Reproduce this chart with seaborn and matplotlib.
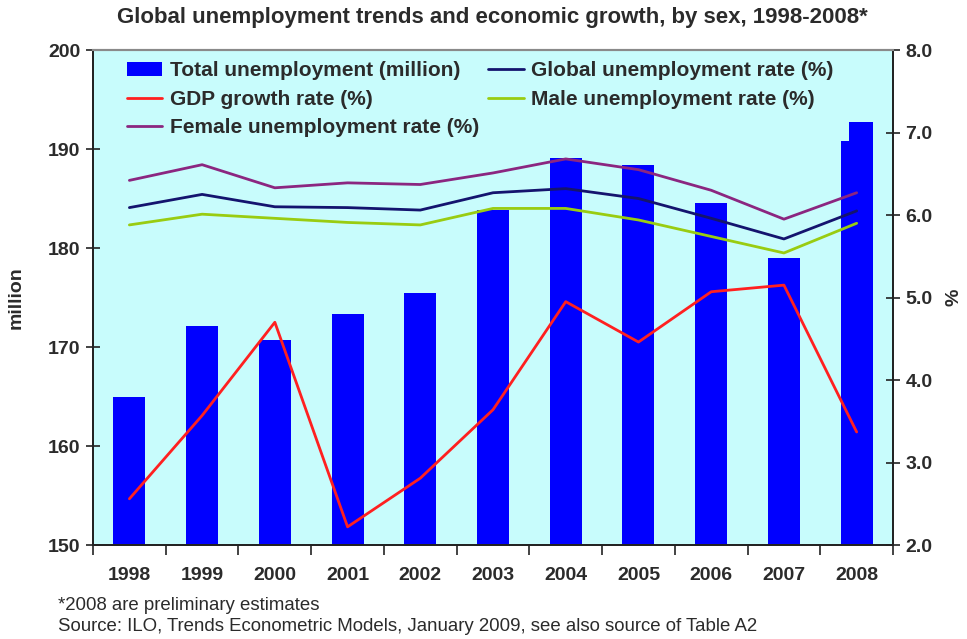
import matplotlib.pyplot as plt
import matplotlib.ticker as mticker
from matplotlib.patches import Patch
import numpy as np
import seaborn as sns

years = [1998, 1999, 2000, 2001, 2002, 2003, 2004, 2005, 2006, 2007, 2008]
total_unemployment = [165.0, 172.1, 170.7, 173.3, 175.5, 183.8, 189.1, 188.4, 184.5, 179.0, 190.8]
total_2008_upper = 192.7
gdp_growth = [2.56, 3.57, 4.70, 2.22, 2.81, 3.64, 4.95, 4.46, 5.07, 5.15, 3.37]
global_rate = [6.09, 6.25, 6.10, 6.09, 6.06, 6.27, 6.32, 6.20, 5.96, 5.71, 6.05]
male_rate = [5.88, 6.01, 5.96, 5.91, 5.88, 6.08, 6.08, 5.94, 5.74, 5.54, 5.90]
female_rate = [6.42, 6.61, 6.33, 6.39, 6.37, 6.51, 6.68, 6.55, 6.30, 5.95, 6.27]

sns.set_style("ticks")
plt.rcParams["font.family"] = ["Liberation Sans", "DejaVu Sans"]

text_color = "#2b2b2b"
bar_color = "#0000FF"
bar_w = 0.44
upper_w = 0.33

fig = plt.figure(figsize=(9.67, 6.39), dpi=100)
ax = fig.add_axes([0.0962, 0.1471, 0.8273, 0.7746])
ax.set_facecolor("#C8FCFC")

sns.barplot(
    x=years,
    y=total_unemployment,
    native_scale=True,
    width=bar_w,
    color=bar_color,
    saturation=1,
    errorbar=None,
    linewidth=0,
    ax=ax,
)
# preliminary 2008 estimate drawn as a taller, narrower block on the right
ax.bar(years[-1] + bar_w / 2, total_2008_upper, width=-upper_w, align="edge",
       color=bar_color, linewidth=0)

ax.set_ylim(150, 200)
ax.set_xlim(years[0] - 0.5, years[-1] + 0.5)

ax2 = ax.twinx()
series = [
    ("Global unemployment rate (%)", global_rate, "#14146E"),
    ("GDP growth rate (%)", gdp_growth, "#FF2020"),
    ("Male unemployment rate (%)", male_rate, "#99CC11"),
    ("Female unemployment rate (%)", female_rate, "#8B2680"),
]
for label, values, color in series:
    sns.lineplot(x=years, y=values, color=color, linewidth=2.0, label=label, ax=ax2)
ax2.set_ylim(2.0, 8.0)
ax2.set_xlim(years[0] - 0.5, years[-1] + 0.5)
ax2.set_xlabel("")
ax2.set_ylabel("")

# ticks
edges = [y - 0.5 for y in years] + [years[-1] + 0.5]
ax.set_xticks(edges)
ax.set_xticklabels([])
ax.set_xticks(years, minor=True)
ax.set_xticklabels([str(y) for y in years], minor=True)
ax.tick_params(axis="x", which="major", direction="out", length=7, width=1.2, color="#222")
ax.tick_params(axis="x", which="minor", length=0, pad=16, labelsize=14, labelcolor=text_color)
for lab in ax.get_xticklabels(minor=True):
    lab.set_fontweight("bold")

ax.set_yticks(np.arange(150, 201, 10))
ax.tick_params(axis="y", direction="inout", length=10, width=1.2, color="#222",
               labelsize=14, labelcolor=text_color, pad=4)
ax2.set_yticks(np.arange(2.0, 8.01, 1.0))
ax2.yaxis.set_major_formatter(mticker.FormatStrFormatter("%.1f"))
ax2.tick_params(axis="y", direction="inout", length=10, width=1.2, color="#222",
                labelsize=14, labelcolor=text_color, pad=4)
for lab in ax.get_yticklabels() + ax2.get_yticklabels():
    lab.set_fontweight("bold")

for a in (ax, ax2):
    a.spines["top"].set_color("#8a8a8a")
    a.spines["top"].set_linewidth(1.5)
    for s in ("left", "right", "bottom"):
        a.spines[s].set_color("#222")
        a.spines[s].set_linewidth(1.3)

ax.set_ylabel("million", fontsize=14, fontweight="bold", color=text_color)
ax.yaxis.set_label_coords(-0.085, 0.5)
ax2.set_ylabel("%", fontsize=14, fontweight="bold", color=text_color, rotation=90)
ax2.yaxis.set_label_coords(1.066, 0.5)

# legend
h2, l2 = ax2.get_legend_handles_labels()
lines = dict(zip(l2, h2))
handles = [
    Patch(facecolor=bar_color, edgecolor="none"),
    lines["GDP growth rate (%)"],
    lines["Female unemployment rate (%)"],
    lines["Global unemployment rate (%)"],
    lines["Male unemployment rate (%)"],
]
labels = [
    "Total unemployment (million)",
    "GDP growth rate (%)",
    "Female unemployment rate (%)",
    "Global unemployment rate (%)",
    "Male unemployment rate (%)",
]
leg = ax2.legend(
    handles, labels, ncol=2, loc="upper left", bbox_to_anchor=(0.028, 1.0),
    frameon=False, handlelength=1.7, handletextpad=0.35,
    labelspacing=0.45, columnspacing=0.45, borderaxespad=0.15,
    prop={"weight": "bold", "size": 15},
)
for t in leg.get_texts():
    t.set_color(text_color)

fig.text(0.509, 0.972, "Global unemployment trends and economic growth, by sex, 1998-2008*",
         ha="center", va="center", fontsize=16, fontweight="bold", color=text_color)
fig.text(0.06, 0.053, "*2008 are preliminary estimates", ha="left", va="center",
         fontsize=13.4, color=text_color)
fig.text(0.06, 0.020, "Source: ILO, Trends Econometric Models, January 2009, see also source of Table A2",
         ha="left", va="center", fontsize=13.4, color=text_color)

fig.savefig("out.png", dpi=100)
